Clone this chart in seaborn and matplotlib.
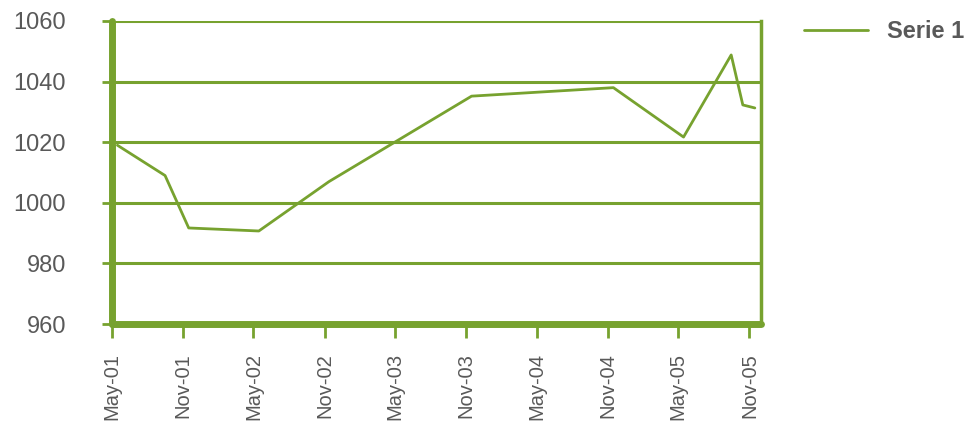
"""
Line chart: Serie 1, May-01 to Nov-05
"""
import matplotlib
matplotlib.use('Agg')
import matplotlib.pyplot as plt
import matplotlib.dates as mdates
import seaborn as sns
import pandas as pd

# data
dates = ['2001-05-15', '2001-09-15', '2001-11-15', '2002-05-15', '2002-11-12',
         '2003-11-15', '2004-11-15', '2005-05-15', '2005-09-15', '2005-10-15',
         '2005-11-15']
values = [1019, 1009, 991.7, 990.7, 1007, 1035.2, 1038, 1021.7, 1048.8, 1032.3, 1031.3]
series_name = 'Serie 1'
y_ticks = [960, 980, 1000, 1020, 1040, 1060]

GREEN = '#77A22F'
GRAY = '#595959'

df = pd.DataFrame({'date': pd.to_datetime(dates), 'value': values, 'series': series_name})

sns.set_style('white')
plt.rcParams['font.family'] = ['Liberation Sans', 'DejaVu Sans']

fig = plt.figure(figsize=(9.67, 4.25), dpi=100)
ax = fig.add_axes([0.1158, 0.2376, 0.6712, 0.713])

sns.lineplot(data=df, x='date', y='value', hue='series', palette=[GREEN],
             linewidth=2, ax=ax)

ax.set_xlim(pd.Timestamp('2001-05-01'), pd.Timestamp('2005-12-01'))
ax.set_ylim(960, 1060)
ax.set_yticks(y_ticks)
ax.set_xlabel('')
ax.set_ylabel('')

ax.xaxis.set_major_locator(mdates.MonthLocator(bymonth=(5, 11)))
ax.xaxis.set_major_formatter(mdates.DateFormatter('%b-%y'))

# grid and spines
ax.yaxis.grid(True, color=GREEN, linewidth=2.2)
ax.xaxis.grid(False)
ax.set_axisbelow(True)
ax.spines['top'].set_visible(False)
ax.spines['left'].set_color(GREEN)
ax.spines['left'].set_linewidth(5)
ax.spines['bottom'].set_color(GREEN)
ax.spines['bottom'].set_linewidth(5)
ax.spines['right'].set_color(GREEN)
ax.spines['right'].set_linewidth(2.5)
for s in ('left', 'bottom'):
    ax.spines[s].set_capstyle('round')
    ax.spines[s].set_joinstyle('round')

ax.tick_params(axis='y', direction='out', length=7, width=2, color=GREEN,
               labelsize=17, labelcolor=GRAY, pad=26, left=True)
ax.tick_params(axis='x', direction='out', length=10, width=2, color=GREEN,
               labelsize=14.5, labelcolor=GRAY, pad=11, bottom=True, labelrotation=90)

leg = ax.legend(loc='upper left', bbox_to_anchor=(0.822, 0.975),
                bbox_transform=fig.transFigure, frameon=False,
                handlelength=2.7, handletextpad=0.8, borderaxespad=0,
                prop={'size': 17, 'weight': 'bold'})
for t in leg.get_texts():
    t.set_color(GRAY)

fig.savefig('out.png', dpi=100)
plt.close(fig)
